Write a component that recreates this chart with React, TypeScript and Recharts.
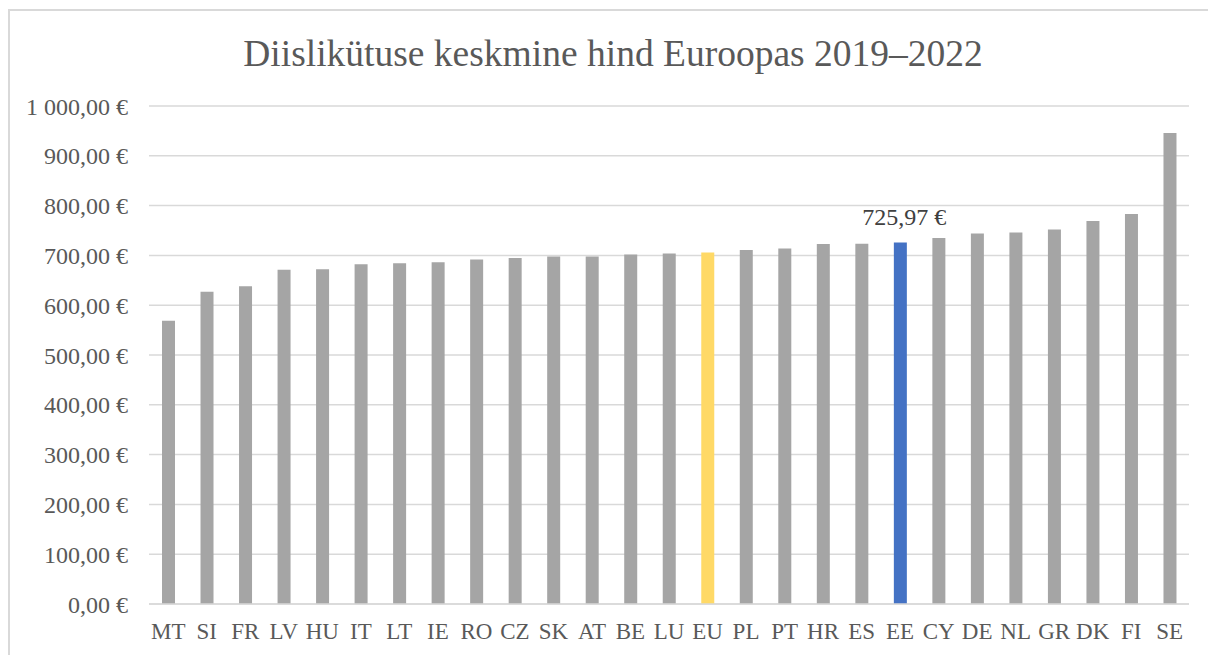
import React from 'react';
import { BarChart, Bar, XAxis, YAxis, CartesianGrid, Cell, LabelList } from 'recharts';

// Diislikütuse keskmine hind (EUR) 2019–2022, sorted ascending
const countries = ['MT', 'SI', 'FR', 'LV', 'HU', 'IT', 'LT', 'IE', 'RO', 'CZ', 'SK', 'AT', 'BE', 'LU',
  'EU', 'PL', 'PT', 'HR', 'ES', 'EE', 'CY', 'DE', 'NL', 'GR', 'DK', 'FI', 'SE'];
const prices = [569, 627, 638, 671, 672, 682, 684, 686, 692, 695, 698, 698, 702, 704,
  706, 711, 714, 723, 723.5, 725.97, 735, 744, 746, 752, 769, 783, 946];
const yTicks = [0, 100, 200, 300, 400, 500, 600, 700, 800, 900, 1000];

const COLORS = {
  bar: '#a5a5a5',
  eu: '#ffd966',
  ee: '#4472c4',
  grid: '#d9d9d9',
  text: '#595959',
  label: '#404040',
};
const FONT = '"Liberation Serif", "Times New Roman", serif';

const data = countries.map((c, i) => ({ country: c, price: prices[i] }));

function fmtEur(v: number) {
  const [int, dec] = v.toFixed(2).split('.');
  const grouped = int.replace(/\B(?=(\d{3})+(?!\d))/g, ' ');
  return `${grouped},${dec} €`;
}

function barColor(c: string) {
  if (c === 'EU') return COLORS.eu;
  if (c === 'EE') return COLORS.ee;
  return COLORS.bar;
}

// only Estonia gets a value label
const EeLabel = (props: any) => {
  const { x, y, width, index } = props;
  if (countries[index] !== 'EE') return null;
  return (
    <text x={Number(x) + Number(width) / 2 + 4} y={Number(y) - 17} textAnchor="middle"
          fill={COLORS.label} fontSize={24} fontFamily={FONT}>
      {fmtEur(prices[index])}
    </text>
  );
};

export default function App() {
  return (
    <div style={{ position: 'absolute', left: 0, top: 0, width: 1208, height: 655, background: '#fff', overflow: 'hidden' }}>
      <div style={{ position: 'absolute', left: 8, top: 9, width: 1220, height: 660,
                    borderLeft: `2px solid ${COLORS.grid}`, borderTop: `2px solid ${COLORS.grid}` }} />
      <div style={{ position: 'absolute', left: 0, top: 35, width: 1226, textAlign: 'center',
                    fontFamily: FONT, fontSize: 37.5, lineHeight: '37px', color: COLORS.text }}>
        Diislikütuse keskmine hind Euroopas 2019–2022
      </div>
      <div style={{ position: 'absolute', left: 0, top: 0 }}>
        <BarChart width={1208} height={655} data={data}
                  margin={{ top: 106, right: 19, bottom: 0, left: 0 }}>
          <CartesianGrid vertical={false} stroke={COLORS.grid} strokeWidth={1.5} />
          <XAxis dataKey="country" interval={0} height={51} tickLine={false} tickSize={0} tickMargin={19}
                 axisLine={{ stroke: COLORS.grid, strokeWidth: 1.5 }}
                 tick={{ fill: COLORS.text, fontSize: 23, fontFamily: FONT }} />
          <YAxis width={149} domain={[0, 1000]} ticks={yTicks} interval={0}
                 axisLine={false} tickLine={false} tickSize={0} tickMargin={21}
                 tickFormatter={fmtEur}
                 tick={{ fill: COLORS.text, fontSize: 24, fontFamily: FONT }} />
          <Bar dataKey="price" barSize={13} isAnimationActive={false}>
            {data.map(d => <Cell key={d.country} fill={barColor(d.country)} />)}
            <LabelList dataKey="price" content={<EeLabel />} />
          </Bar>
        </BarChart>
      </div>
    </div>
  );
}
